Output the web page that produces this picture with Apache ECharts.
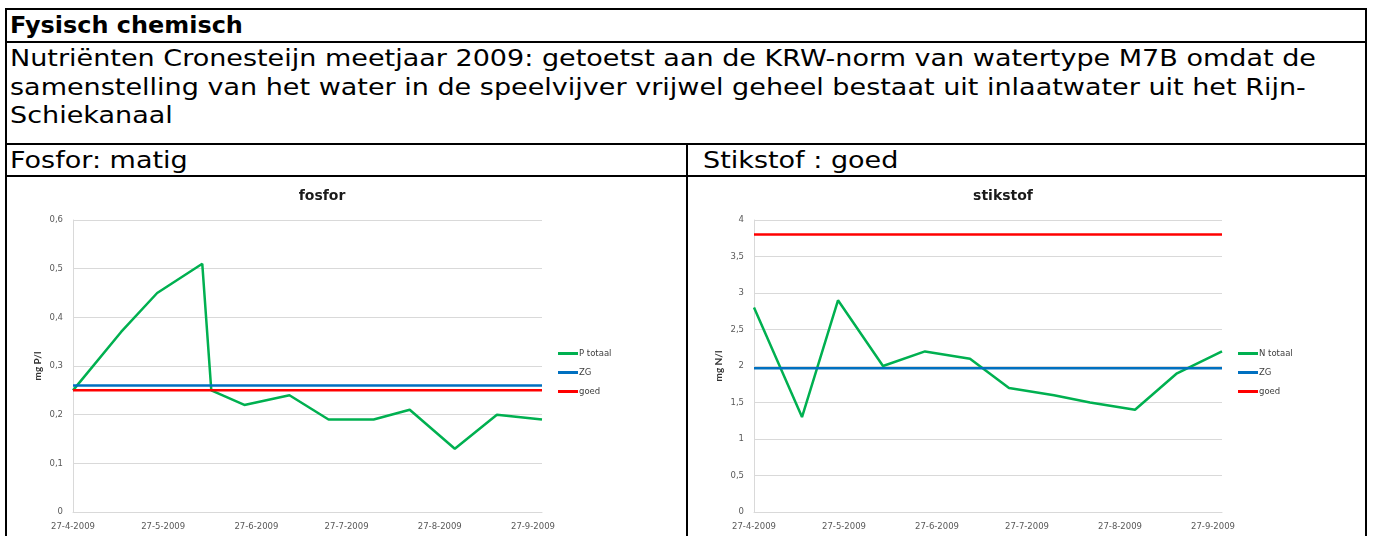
<!DOCTYPE html>
<html>
<head>
<meta charset="utf-8">
<script src="https://cdn.jsdelivr.net/npm/echarts@6/dist/echarts.min.js"></script>
<style>
  html, body { margin: 0; padding: 0; background: #fff; }
  body { width: 1373px; height: 536px; position: relative; overflow: hidden; font-family: 'DejaVu Sans', Verdana, sans-serif; }
  .hline { position: absolute; height: 2px; background: #000; }
  .vline { position: absolute; width: 2px; background: #000; }
  .txt { position: absolute; left: 10px; font-size: 23px; line-height: 28px; color: #000; white-space: nowrap; transform-origin: 0 0; }
  #chart { position: absolute; left: 0; top: 0; width: 1373px; height: 536px; }
</style>
</head>
<body>
  <!-- table frame -->
  <div class="hline" style="left:5px; top:8px; width:1362px"></div>
  <div class="hline" style="left:5px; top:41px; width:1362px"></div>
  <div class="hline" style="left:5px; top:143px; width:1362px"></div>
  <div class="hline" style="left:5px; top:175px; width:1362px"></div>
  <div class="vline" style="left:5px; top:8px; height:528px"></div>
  <div class="vline" style="left:1365px; top:8px; height:528px"></div>
  <div class="vline" style="left:686px; top:143px; height:393px"></div>

  <!-- table text -->
  <div class="txt" style="top:11px; font-weight:bold; transform:scaleX(1.04)">Fysisch chemisch</div>
  <div class="txt" style="top:44px; transform:scaleX(1.175)">Nutriënten Cronesteijn meetjaar 2009: getoetst aan de KRW-norm van watertype M7B omdat de</div>
  <div class="txt" style="top:73px; transform:scaleX(1.175)">samenstelling van het water in de speelvijver vrijwel geheel bestaat uit inlaatwater uit het Rijn-</div>
  <div class="txt" style="top:101px; transform:scaleX(1.175)">Schiekanaal</div>
  <div class="txt" style="top:146px; transform:scaleX(1.175)">Fosfor: matig</div>
  <div class="txt" style="top:146px; left:703px; transform:scaleX(1.175)">Stikstof : goed</div>

  <div id="chart"></div>

<script>
// measurement dates and values
const fosforDates = ['2009-04-27', '2009-05-13', '2009-05-25', '2009-06-09', '2009-06-12', '2009-06-23', '2009-07-08',
  '2009-07-21', '2009-08-05', '2009-08-17', '2009-09-01', '2009-09-15', '2009-09-30']
const fosforValues = [0.25, 0.37, 0.45, 0.51, 0.25, 0.22, 0.24, 0.19, 0.19, 0.21, 0.13, 0.20, 0.19]

const stikstofDates = ['2009-04-27', '2009-05-13', '2009-05-25', '2009-06-09', '2009-06-23', '2009-07-08',
  '2009-07-21', '2009-08-05', '2009-08-17', '2009-09-01', '2009-09-15', '2009-09-30']
const stikstofValues = [2.8, 1.3, 2.9, 2.0, 2.2, 2.1, 1.7, 1.6, 1.5, 1.4, 1.9, 2.2]

// norm lines (ZG and goed)
const fosforZG = 0.26
const fosforGoed = 0.25
const stikstofZG = 1.97
const stikstofGoed = 3.8

// axis ticks
const dateTicks = ['2009-04-27', '2009-05-27', '2009-06-27', '2009-07-27', '2009-08-27', '2009-09-27']
const fosforAxis = { min: 0, max: 0.6, step: 0.1 }
const stikstofAxis = { min: 0, max: 4, step: 0.5 }

const FONT = 'DejaVu Sans'
const GREEN = '#00b050'
const BLUE = '#0070c0'
const RED = '#ff0000'
const GRID_GRAY = '#d9d9d9'
const LABEL_GRAY = '#595959'

const toTime = (s) => {
  const [y, m, d] = s.split('-').map(Number)
  return new Date(y, m - 1, d).getTime()
}
const fmtDate = (v) => {
  const d = new Date(v)
  return d.getDate() + '-' + (d.getMonth() + 1) + '-' + d.getFullYear()
}
const fmtNum = (v) => String(+Number(v).toFixed(2)).replace('.', ',')

// dates as timestamps on a value axis, labels only on the 27th of each month
function xAxisFor(gridIndex, dates) {
  return {
    type: 'value',
    gridIndex,
    min: toTime(dates[0]),
    max: toTime(dates[dates.length - 1]),
    axisLine: { show: true, onZero: false, lineStyle: { color: GRID_GRAY, width: 1 } },
    axisTick: { show: false },
    splitLine: { show: false },
    axisLabel: {
      customValues: dateTicks.map(toTime),
      formatter: fmtDate,
      color: LABEL_GRAY, fontSize: 8.5, fontFamily: FONT, margin: 10,
      hideOverlap: false
    }
  }
}

function yAxisFor(gridIndex, range, name) {
  return {
    type: 'value',
    gridIndex,
    min: range.min, max: range.max, interval: range.step,
    name,
    nameLocation: 'middle',
    nameGap: 30,
    nameTextStyle: { fontWeight: 'bold', fontSize: 10, fontFamily: 'Lato', color: '#333333' },
    axisLine: { show: true, lineStyle: { color: GRID_GRAY, width: 1 } },
    axisTick: { show: false },
    splitLine: { lineStyle: { color: GRID_GRAY, width: 1 } },
    axisLabel: { formatter: fmtNum, color: LABEL_GRAY, fontSize: 8.5, fontFamily: FONT, margin: 10 }
  }
}

function lineSeries(name, idx, data, color) {
  return {
    name, type: 'line', xAxisIndex: idx, yAxisIndex: idx,
    data, symbol: 'none', showSymbol: false,
    lineStyle: { color, width: 2.5 }, itemStyle: { color },
    emphasis: { disabled: true }, animation: false
  }
}

function normData(dates, value) {
  return [[toTime(dates[0]), value], [toTime(dates[dates.length - 1]), value]]
}

const chart = echarts.init(document.getElementById('chart'))

const legendStyle = {
  orient: 'vertical', icon: 'rect', itemWidth: 20, itemHeight: 3, itemGap: 10,
  padding: 0,
  textStyle: { color: '#404040', fontSize: 8.5, fontFamily: FONT, padding: [0, 0, 0, -4] }
}

chart.setOption({
  animation: false,
  title: [
    { text: 'fosfor', left: 322, top: 189, textAlign: 'center', padding: 0,
      textStyle: { fontFamily: FONT, fontSize: 14, fontWeight: 'bold', color: '#1a1a1a' } },
    { text: 'stikstof', left: 1003, top: 189, textAlign: 'center', padding: 0,
      textStyle: { fontFamily: FONT, fontSize: 14, fontWeight: 'bold', color: '#1a1a1a' } }
  ],
  legend: [
    Object.assign({ data: ['P totaal', 'ZG', 'goed'], left: 558, top: 349 }, legendStyle),
    Object.assign({ data: ['N totaal', 'ZG', 'goed'], left: 1238, top: 349 }, legendStyle)
  ],
  grid: [
    { left: 73, top: 220, width: 469, height: 292 },
    { left: 754, top: 220, width: 468, height: 292 }
  ],
  xAxis: [xAxisFor(0, fosforDates), xAxisFor(1, stikstofDates)],
  yAxis: [yAxisFor(0, fosforAxis, 'mg P/l'), yAxisFor(1, stikstofAxis, 'mg N/l')],
  series: [
    lineSeries('P totaal', 0, fosforDates.map((d, i) => [toTime(d), fosforValues[i]]), GREEN),
    lineSeries('ZG', 0, normData(fosforDates, fosforZG), BLUE),
    lineSeries('goed', 0, normData(fosforDates, fosforGoed), RED),
    lineSeries('N totaal', 1, stikstofDates.map((d, i) => [toTime(d), stikstofValues[i]]), GREEN),
    lineSeries('ZG', 1, normData(stikstofDates, stikstofZG), BLUE),
    lineSeries('goed', 1, normData(stikstofDates, stikstofGoed), RED)
  ]
})
</script>
</body>
</html>
